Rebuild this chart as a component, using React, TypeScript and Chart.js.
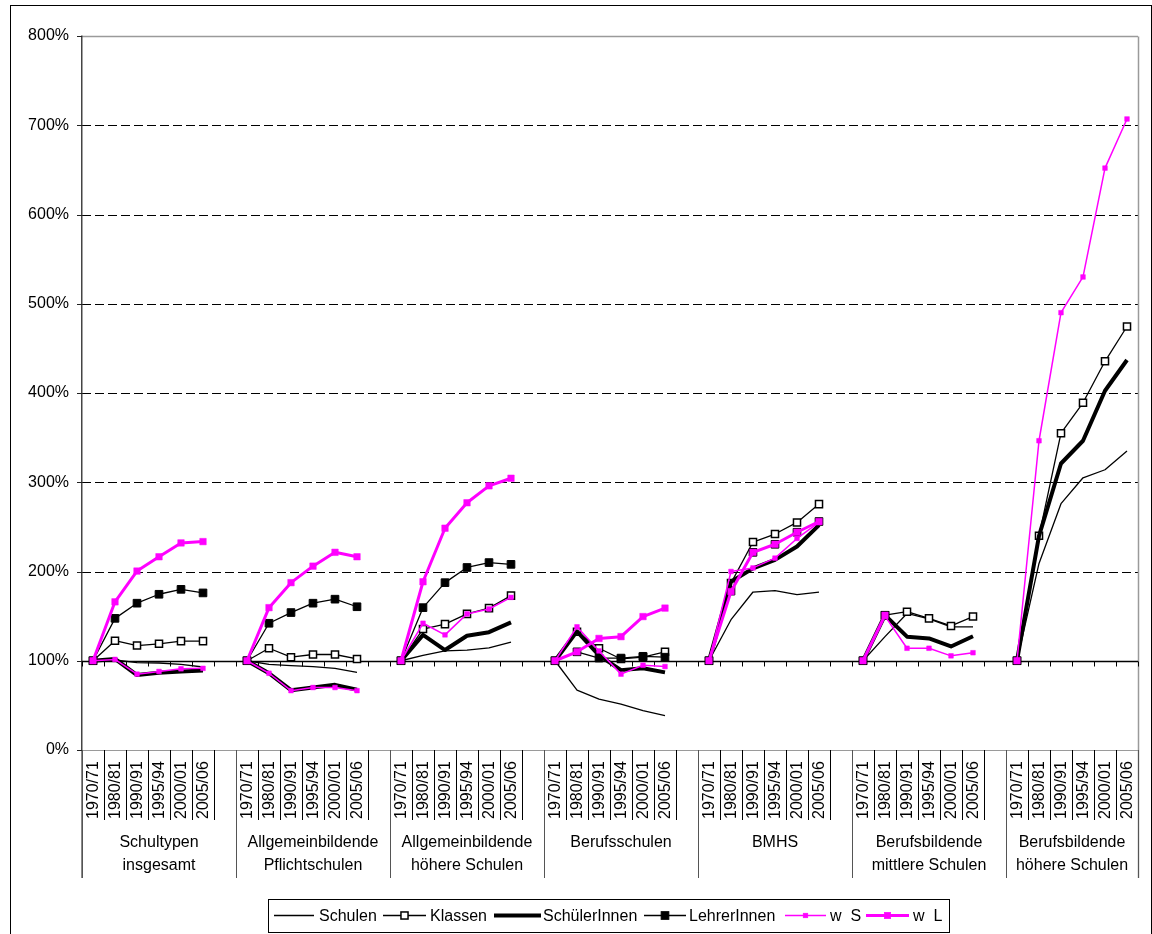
import React, { useEffect, useRef } from "react";
import { Chart, registerables } from "chart.js";

Chart.register(...registerables);

// ---------- data ----------
const YEARS = ["1970/71", "1980/81", "1990/91", "1995/94", "2000/01", "2005/06"];

const GROUPS = [
  ["Schultypen", "insgesamt"],
  ["Allgemeinbildende", "Pflichtschulen"],
  ["Allgemeinbildende", "höhere Schulen"],
  ["Berufsschulen"],
  ["BMHS"],
  ["Berufsbildende", "mittlere Schulen"],
  ["Berufsbildende", "höhere Schulen"],
];

const Y_TICKS = [0, 100, 200, 300, 400, 500, 600, 700, 800];

const SERIES_NAMES = ["Schulen", "Klassen", "SchülerInnen", "LehrerInnen", "w  S", "w  L"];

const SCHULEN = [
  [100, 101, 98, 97.5, 96, 93],
  [100, 96, 94.5, 93.5, 91.5, 87],
  [100, 106, 111, 112, 114.5, 121],
  [100, 67, 57, 51.5, 44, 38.5],
  [100, 146, 177, 178.5, 174, 177],
  [100, 127, 153, 147, 138, 138],
  [100, 209, 276, 305, 314, 335],
];

const KLASSEN = [
  [100, 122.5, 117, 119, 122, 122],
  [100, 114, 104, 107, 107, 102],
  [100, 135.5, 141, 152.5, 159, 173],
  [100, 132.5, 114, 102, 104, 110],
  [100, 187, 233, 242, 255, 275.5],
  [100, 151, 155, 147.5, 139, 149.5],
  [100, 240, 355, 389, 435.5, 474.5],
];

const SCHUELER = [
  [100, 102, 84, 86.5, 88, 89],
  [100, 86, 67, 70, 73, 67.5],
  [100, 129, 112, 128, 132, 143],
  [100, 133, 106, 89.5, 91.5, 87],
  [100, 188.5, 203.5, 213, 228, 252],
  [100, 151, 127, 125, 116, 127.5],
  [100, 240, 321, 346.5, 402.5, 437],
];

const LEHRER = [
  [100, 147.5, 164.5, 174.5, 180, 176],
  [100, 142, 154, 164.5, 169, 160.5],
  [100, 159.5, 187.5, 204.5, 210, 208],
  [100, 110, 103, 103, 105, 104],
  [100, 178, 221.5, 230.5, 244, 256],
  [100, 151, null, null, null, null],
  [100, null, null, null, null, null],
];

const W_S = [
  [100, 101.5, 85, 88, 91, 91.5],
  [100, 86, 66.5, 70, 70, 66.5],
  [100, 142, 129, 152.5, 158, 171],
  [100, 138, 111, 85, 95, 93.5],
  [100, 200, 204, 215, 237, 255],
  [100, 150, 114, 114, 105.5, 109],
  [100, 346.5, 490, 530, 652, 707],
];

const W_L = [
  [100, 166, 200.5, 216.5, 232, 233.5],
  [100, 159.5, 187.5, 206, 221.5, 216.5],
  [100, 188.5, 248.5, 277, 296, 304.5],
  [100, 110, 125, 127, 149.5, 159],
  [100, 177.5, 221.5, 230.5, 244, 256],
  [100, 151, null, null, null, null],
  [100, null, null, null, null, null],
];

// ---------- helpers ----------
const FONT = '"Liberation Sans", Arial, Helvetica, sans-serif';
const FONT_SIZE = 16;
const MAGENTA = "#FF00FF";

function buildLabels(): string[] {
  const out: string[] = [];
  GROUPS.forEach((_, g) => {
    YEARS.forEach((y) => out.push(y));
    if (g < GROUPS.length - 1) out.push("");
  });
  return out;
}

function flatten(values: (number | null)[][]): (number | null)[] {
  const out: (number | null)[] = [];
  values.forEach((grp, g) => {
    grp.forEach((v) => out.push(v));
    if (g < values.length - 1) out.push(null);
  });
  return out;
}

function line(ctx: CanvasRenderingContext2D, x1: number, y1: number, x2: number, y2: number) {
  ctx.beginPath();
  ctx.moveTo(x1, y1);
  ctx.lineTo(x2, y2);
  ctx.stroke();
}

const STYLES = [
  { color: "#000", width: 1.3, radius: 0, fill: "#000", pbw: 0 },
  { color: "#000", width: 1.3, radius: 5, fill: "#fff", pbw: 1.5 },
  { color: "#000", width: 4, radius: 0, fill: "#000", pbw: 0 },
  { color: "#000", width: 1.3, radius: 5.4, fill: "#000", pbw: 1 },
  { color: MAGENTA, width: 1.5, radius: 3.3, fill: MAGENTA, pbw: 0.5 },
  { color: MAGENTA, width: 3, radius: 4.6, fill: MAGENTA, pbw: 0.5 },
];

// legend layout (pixels)
const LEGEND_BOX = [268, 899, 949, 932];
const LEGEND_SAMPLES = [
  [274, 314],
  [383, 426],
  [494, 541],
  [644, 686],
  [785, 826],
  [866, 909],
];
const LEGEND_TEXT_X = [319, 430, 543, 689, 830, 913];

function drawMarker(ctx: CanvasRenderingContext2D, i: number, cx: number, cy: number) {
  const s = STYLES[i];
  if (!s.radius) return;
  const half = s.radius * Math.SQRT1_2;
  ctx.fillStyle = s.fill;
  ctx.fillRect(cx - half, cy - half, half * 2, half * 2);
  ctx.lineWidth = s.pbw;
  ctx.strokeStyle = s.color;
  ctx.strokeRect(cx - half, cy - half, half * 2, half * 2);
}

const decorPlugin = {
  id: "decor",
  beforeDatasetsDraw(chart: any) {
    const { ctx, chartArea: a, scales } = chart;
    const x = scales.x;
    const y = scales.y;
    const n = chart.data.labels.length;
    const catW = (x.right - x.left) / n;
    ctx.save();

    // dashed gridlines
    ctx.strokeStyle = "#000";
    ctx.lineWidth = 1;
    ctx.setLineDash([9, 4]);
    Y_TICKS.filter((v) => v > 100 && v < 800).forEach((v) => {
      const py = Math.round(y.getPixelForValue(v)) + 0.5;
      line(ctx, a.left, py, a.right, py);
    });
    ctx.setLineDash([]);

    // plot border: top, right, bottom (grey)
    ctx.strokeStyle = "#9a9a9a";
    ctx.lineWidth = 1.5;
    const top = Math.round(y.getPixelForValue(800)) + 0.5;
    const bot = Math.round(y.getPixelForValue(0)) + 0.5;
    line(ctx, a.left, top, a.right, top);
    line(ctx, a.right + 0.5, top, a.right + 0.5, 878);
    ctx.lineWidth = 1;
    line(ctx, a.left, bot, a.right, bot);

    // left axis
    ctx.strokeStyle = "#444";
    ctx.lineWidth = 1.5;
    const lx = Math.round(a.left) - 0.25;
    line(ctx, lx, top - 1, lx, bot);
    ctx.strokeStyle = "#8a8a8a";
    ctx.lineWidth = 1;
    line(ctx, Math.round(a.left) - 0.5, bot, Math.round(a.left) - 0.5, 878);
    ctx.strokeStyle = "#222";
    ctx.lineWidth = 1;
    Y_TICKS.forEach((v) => {
      const py = Math.round(y.getPixelForValue(v)) + 0.5;
      line(ctx, a.left - 5, py, a.left, py);
    });

    // category axis crossing at 100%
    const ay = Math.round(y.getPixelForValue(100)) + 0.5;
    ctx.strokeStyle = "#000";
    ctx.lineWidth = 1.5;
    line(ctx, a.left, ay, a.right, ay);
    ctx.lineWidth = 1;
    for (let i = 0; i <= n; i++) {
      const px = Math.round(x.left + i * catW) + 0.5;
      line(ctx, px, ay, px, ay + 5);
    }
    ctx.restore();
  },
  afterDraw(chart: any) {
    const { ctx, scales } = chart;
    const x = scales.x;
    const y = scales.y;
    const labels: string[] = chart.data.labels;
    const n = labels.length;
    const catW = (x.right - x.left) / n;
    const bot = Math.round(y.getPixelForValue(0));
    ctx.save();

    // year separators & group separators
    ctx.lineWidth = 1;
    GROUPS.forEach((_, g) => {
      for (let k = 0; k <= YEARS.length; k++) {
        const i = g * (YEARS.length + 1) + k;
        const px = Math.round(x.left + i * catW) + 0.5;
        if (k === 0) {
          ctx.strokeStyle = "#555";
          line(ctx, px, bot, px, 878);
        } else {
          ctx.strokeStyle = "#000";
          line(ctx, px, bot, px, 820);
        }
      }
    });
    ctx.strokeStyle = "#555";
    const rx = Math.round(x.right) + 0.5;
    line(ctx, rx, bot, rx, 878);

    // year labels (rotated)
    ctx.fillStyle = "#000";
    ctx.font = `${FONT_SIZE}px ${FONT}`;
    labels.forEach((lab, i) => {
      if (!lab) return;
      const cx = x.getPixelForValue(i);
      ctx.save();
      ctx.translate(cx + 1, 819);
      ctx.rotate(-Math.PI / 2);
      ctx.textAlign = "left";
      ctx.textBaseline = "middle";
      ctx.fillText(lab, 0, 0);
      ctx.restore();
    });

    // group labels
    ctx.textAlign = "center";
    ctx.textBaseline = "middle";
    GROUPS.forEach((lines, g) => {
      const i0 = g * (YEARS.length + 1);
      const i1 = Math.min(i0 + YEARS.length + 1, n);
      const cx = x.left + ((i0 + i1) / 2) * catW;
      lines.forEach((t, li) => ctx.fillText(t, cx, 843 + li * 23));
    });

    // legend
    const [bx1, by1, bx2, by2] = LEGEND_BOX;
    ctx.fillStyle = "#fff";
    ctx.fillRect(bx1, by1, bx2 - bx1, by2 - by1);
    ctx.strokeStyle = "#000";
    ctx.lineWidth = 1;
    ctx.strokeRect(bx1 + 0.5, by1 + 0.5, bx2 - bx1, by2 - by1);
    const ly = (by1 + by2) / 2;
    SERIES_NAMES.forEach((name, i) => {
      const s = STYLES[i];
      const [sx1, sx2] = LEGEND_SAMPLES[i];
      ctx.strokeStyle = s.color;
      ctx.lineWidth = s.width;
      line(ctx, sx1, ly, sx2, ly);
      drawMarker(ctx, i, (sx1 + sx2) / 2, ly);
      ctx.fillStyle = "#000";
      ctx.textAlign = "left";
      ctx.textBaseline = "middle";
      ctx.fillText(name, LEGEND_TEXT_X[i], ly + 1);
    });

    // outer chart border
    ctx.strokeStyle = "#000";
    ctx.lineWidth = 1;
    ctx.strokeRect(10.5, 5.5, 1141, 940);
    ctx.restore();
  },
};

export default function App() {
  const ref = useRef<HTMLCanvasElement>(null);

  useEffect(() => {
    document.body.style.margin = "0";
    const canvas = ref.current;
    if (!canvas) return;
    const labels = buildLabels();
    const all = [SCHULEN, KLASSEN, SCHUELER, LEHRER, W_S, W_L];
    const datasets = all.map((vals, i) => {
      const s = STYLES[i];
      return {
        label: SERIES_NAMES[i],
        data: flatten(vals),
        borderColor: s.color,
        backgroundColor: s.fill,
        borderWidth: s.width,
        pointStyle: "rect" as const,
        pointRadius: s.radius,
        pointHoverRadius: s.radius,
        pointBorderWidth: s.pbw,
        pointBorderColor: s.color,
        pointBackgroundColor: s.fill,
        tension: 0,
        spanGaps: false,
        order: all.length - i,
        clip: false as any,
        borderJoinStyle: "round" as const,
      };
    });

    const chart = new Chart(canvas, {
      type: "line",
      data: { labels, datasets },
      options: {
        responsive: false,
        animation: false,
        devicePixelRatio: 1,
        events: [],
        layout: { padding: { left: 0, top: 36, right: 14, bottom: 184 } },
        plugins: { legend: { display: false }, tooltip: { enabled: false } },
        scales: {
          x: { type: "category", display: false, offset: true },
          y: {
            min: 0,
            max: 800,
            afterFit: (s: any) => {
              s.width = 82;
            },
            grid: { display: false, drawTicks: false },
            border: { display: false },
            ticks: {
              stepSize: 100,
              padding: 13,
              color: "#000",
              font: { family: FONT, size: FONT_SIZE },
              callback: (v: any) => `${v}%`,
            },
          },
        },
      },
      plugins: [decorPlugin],
    });
    return () => chart.destroy();
  }, []);

  return (
    <div style={{ width: 1152, height: 934, overflow: "hidden", background: "#fff" }}>
      <canvas ref={ref} width={1152} height={934} style={{ display: "block" }} />
    </div>
  );
}
